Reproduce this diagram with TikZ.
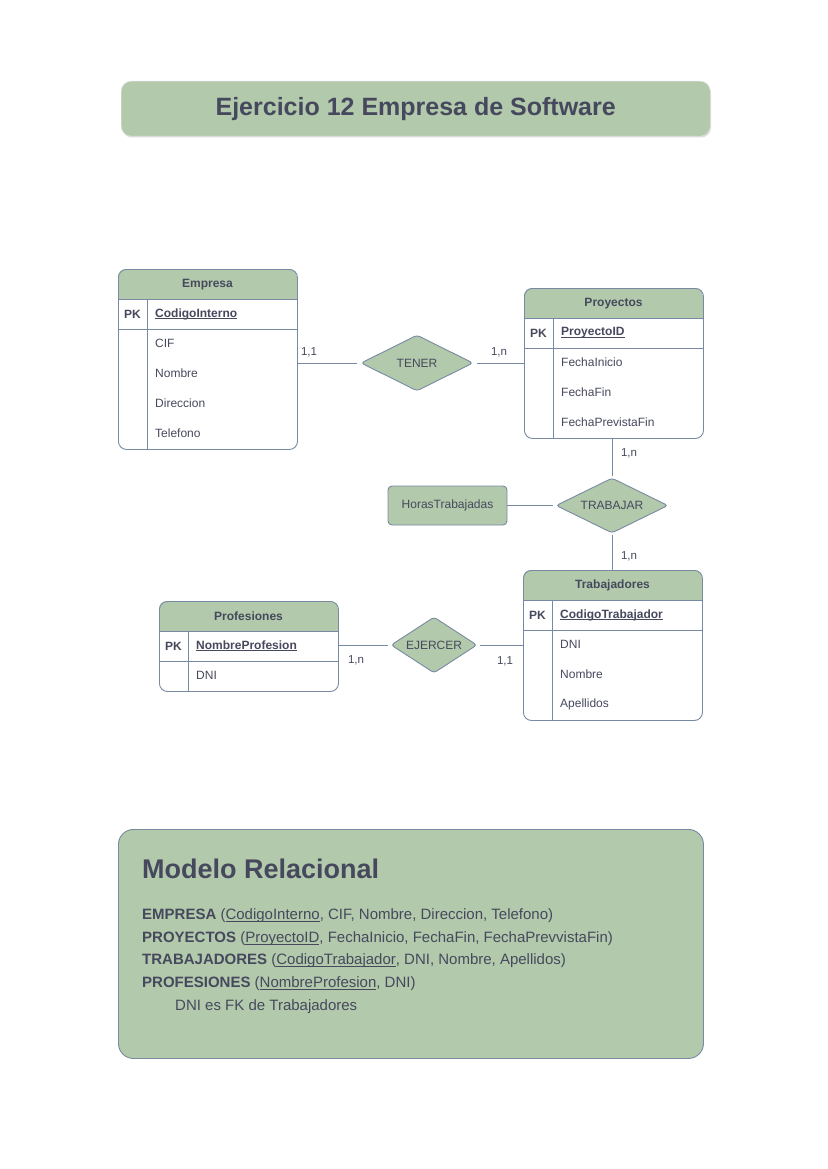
\documentclass[tikz,border=0pt]{standalone}
\usepackage{fontspec}
\setmainfont{Liberation Sans}
\usetikzlibrary{shapes.geometric,calc}
\definecolor{sage}{HTML}{B2C9AB}
\definecolor{edgec}{HTML}{788AA3}
\definecolor{ink}{HTML}{46495D}
\newcommand\myul[1]{\setbox0\hbox{#1}\rlap{\raisebox{-0.13em}{\rule{\wd0}{0.055em}}}\box0}
\tikzset{
  tablebox/.style={draw=edgec, line width=0.9pt, rounded corners=8pt, inner sep=0pt},
  rowline/.style={draw=edgec, line width=0.9pt},
  ttl/.style={font=\fontsize{12}{14}\selectfont\bfseries, text=ink, inner sep=0pt},
  fieldtxt/.style={font=\fontsize{12}{14}\selectfont, text=ink, inner sep=0pt, anchor=west},
  pktxt/.style={font=\fontsize{12}{14}\selectfont\bfseries, text=ink, inner sep=0pt},
  rel/.style={diamond, draw=edgec, fill=sage, line width=0.9pt, rounded corners=3pt, inner sep=0pt, aspect=2,
     font=\fontsize{12}{14}\selectfont, text=ink},
  attr/.style={draw=edgec, fill=sage, line width=0.9pt, rounded corners=4pt, inner sep=0pt,
     font=\fontsize{12}{14}\selectfont, text=ink},
  conn/.style={draw=edgec, line width=0.9pt},
  card/.style={font=\fontsize{11.5}{13}\selectfont, text=ink, inner sep=0pt},
  reltxt/.style={font=\fontsize{15}{18}\selectfont, text=ink, inner sep=0pt, anchor=base west},
}
% #1 name, #2 left x, #3 top y, #4 width, #5 nfields, #6 title, #7 pk, #8 fields
\newcommand\ertable[8]{%
  \pgfmathsetmacro\tabh{60+30*#5}
  \begin{scope}
    \clip[rounded corners=8pt] (#2,#3) rectangle ++(#4,\tabh);
    \fill[sage] (#2,#3) rectangle ++(#4,30);
  \end{scope}
  \node[tablebox, minimum width=#4, minimum height=\tabh, anchor=north west] (#1) at (#2,#3) {};
  \path[rowline] (#2,#3+30) -- ++(#4,0);
  \path[rowline] (#2,#3+60) -- ++(#4,0);
  \path[rowline] (#2+29,#3+30) -- (#2+29,#3+\tabh);
  \node[ttl] (#1-title) at (#2+#4/2,#3+15.5) {#6};
  \node[pktxt] (#1-pk) at (#2+14.5,#3+45) {PK};
  \node[pktxt, anchor=west] (#1-pkf) at (#2+37,#3+45) {\myul{#7}};
  \foreach \f [count=\i] in {#8} {\node[fieldtxt] (#1-f\i) at (#2+37,#3+44+30*\i) {\f};}
}
\begin{document}
\begin{tikzpicture}[x=1pt,y=-1pt]
\useasboundingbox (0,0) rectangle (827,1169);
\fill[white] (0,0) rectangle (827,1169);

% title
\fill[black!14, rounded corners=10pt] (122,83) rectangle (711,137.5);
\node[draw=black!10, fill=sage, rounded corners=10pt, minimum width=589, minimum height=55, inner sep=0pt, anchor=north west,
  font=\fontsize{25}{30}\selectfont\bfseries, text=ink] (title) at (121,81) {Ejercicio 12 Empresa de Software};

% tables
\ertable{empresa}{118}{269}{179}{4}{Empresa}{CodigoInterno}{CIF,Nombre,Direccion,Telefono}
\ertable{proyectos}{524}{288}{179}{3}{Proyectos}{ProyectoID}{FechaInicio,FechaFin,FechaPrevistaFin}
\ertable{trabajadores}{523}{570}{179}{3}{Trabajadores}{CodigoTrabajador}{DNI,Nombre,Apellidos}
\ertable{profesiones}{159}{601}{179}{1}{Profesiones}{NombreProfesion}{DNI}

% relationships
\node[rel, minimum width=112, minimum height=56] (tener) at (417,363) {TENER};
\node[rel, minimum width=112, minimum height=55] (trabajar) at (612,505.5) {TRABAJAR};
\node[rel, minimum width=86, minimum height=56] (ejercer) at (434,645) {EJERCER};
\node[attr, minimum width=119, minimum height=39] (horas) at (447.5,505.5) {HorasTrabajadas};

% connectors
\draw[conn, shorten >=4pt] (tener.west -| empresa.east) -- (tener.west);
\draw[conn, shorten <=4pt] (tener.east) -- (tener.east -| proyectos.west);
\draw[conn, shorten >=2pt] (proyectos.south -| trabajar.north) -- (trabajar.north);
\draw[conn, shorten <=2pt] (trabajar.south) -- (trabajar.south |- trabajadores.north);
\draw[conn, shorten >=3pt] (horas.east) -- (trabajar.west);
\draw[conn, shorten >=3pt] (ejercer.west -| profesiones.east) -- (ejercer.west);
\draw[conn, shorten <=3pt] (ejercer.east) -- (ejercer.east -| trabajadores.west);

% cardinalities
\node[card] (c1) at (309,352) {1,1};
\node[card] (c2) at (499,352) {1,n};
\node[card] (c3) at (629,453) {1,n};
\node[card] (c4) at (629,556) {1,n};
\node[card] (c5) at (356,660) {1,n};
\node[card] (c6) at (505,661) {1,1};

% relational model
\node[draw=edgec, fill=sage, line width=0.9pt, rounded corners=15pt, minimum width=585, minimum height=229, inner sep=0pt, anchor=north west] (modelo) at (118,829) {};
\node[font=\fontsize{27}{32}\selectfont\bfseries, text=ink, inner sep=0pt, anchor=base west] (mtitle) at (142,878) {Modelo Relacional};
\node[reltxt] (r1) at (142,919.5) {\textbf{EMPRESA} (\myul{CodigoInterno}, CIF, Nombre, Direccion, Telefono)};
\node[reltxt] (r2) at (142,942.5) {\textbf{PROYECTOS} (\myul{ProyectoID}, FechaInicio, FechaFin, FechaPrevvistaFin)};
\node[reltxt] (r3) at (142,964.5) {\textbf{TRABAJADORES} (\myul{CodigoTrabajador}, DNI, Nombre, Apellidos)};
\node[reltxt] (r4) at (142,987.5) {\textbf{PROFESIONES} (\myul{NombreProfesion}, DNI)};
\node[reltxt] (r5) at (175,1010) {DNI es FK de Trabajadores};
\end{tikzpicture}
\end{document}
